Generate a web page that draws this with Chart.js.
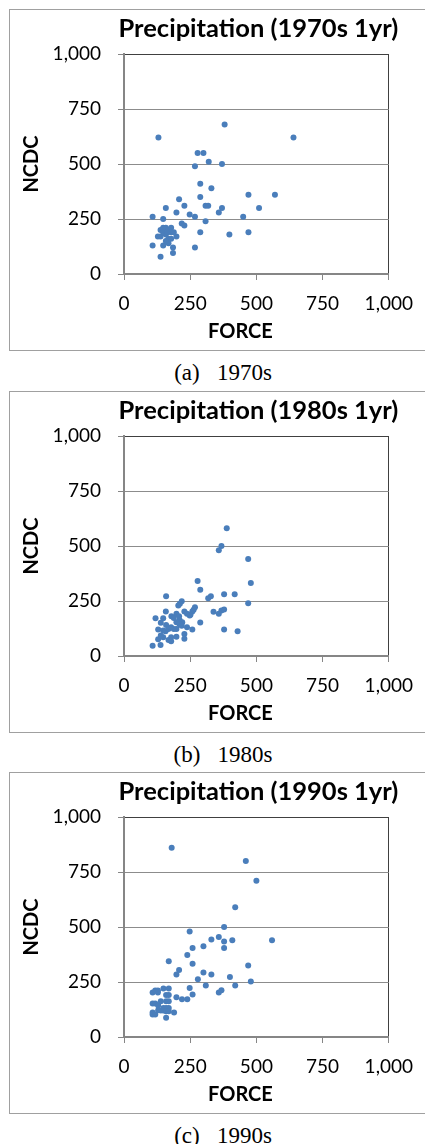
<!DOCTYPE html>
<html>
<head>
<meta charset="utf-8">
<script src="https://cdn.jsdelivr.net/npm/chart.js@4/dist/chart.umd.min.js"></script>
<style>
  html, body { margin: 0; padding: 0; background: #fff; width: 425px; height: 1144px; overflow: hidden; position: relative; }
  .panel { position: absolute; left: 9px; width: 440px; height: 340px; border: 1px solid #a0a0a0; background: #fff; }
  .panel canvas { position: absolute; left: 0; top: 0; }
  .cap { position: absolute; left: 113px; width: 220px; text-align: center; font-family: "Liberation Serif", "Times New Roman", serif; font-size: 23px; line-height: 24px; color: #000; }
</style>
</head>
<body>
<div class="panel" style="top:9px"><canvas id="chart70" width="415" height="340"></canvas></div>
<div class="cap" style="top:361px">(a)&nbsp;&nbsp;&nbsp;1970s</div>
<div class="panel" style="top:391px"><canvas id="chart80" width="415" height="340"></canvas></div>
<div class="cap" style="top:743px">(b)&nbsp;&nbsp;&nbsp;1980s</div>
<div class="panel" style="top:772px"><canvas id="chart90" width="415" height="340"></canvas></div>
<div class="cap" style="top:1124px">(c)&nbsp;&nbsp;&nbsp;1990s</div>

<script>
// axis ticks (both axes)
const axisTicks = [0, 250, 500, 750, 1000];

// 1970s: FORCE (x) vs NCDC (y)
const force70 = [130, 380, 640, 278, 300, 320, 268, 370, 288, 330, 288, 208, 470, 570, 158, 228, 308, 318, 370, 510,
  198, 358, 248, 108, 268, 450, 148, 308, 218, 228, 288, 470, 398, 268, 108, 148, 185, 185, 138, 198,
  128, 138, 138, 148, 158, 168, 178, 178, 158, 168, 178, 168, 148, 158, 188, 165];
const ncdc70 = [620, 680, 620, 550, 550, 510, 490, 500, 410, 390, 350, 340, 360, 360, 300, 310, 310, 310, 300, 300,
  280, 280, 270, 260, 260, 260, 250, 240, 230, 220, 190, 190, 180, 120, 130, 130, 120, 95, 78, 170,
  170, 170, 200, 210, 210, 200, 210, 190, 180, 160, 160, 140, 190, 150, 190, 190];

// 1980s
const force80 = [388, 368, 358, 469, 479, 278, 288, 318, 328, 378, 418, 469, 159, 218, 211, 205, 268, 263, 258, 251,
  338, 358, 368, 378, 288, 378, 429, 158, 119, 148, 139, 159, 129, 148, 157, 168, 178, 188, 198, 178,
  168, 178, 198, 228, 228, 238, 258, 108, 138, 129, 148, 139, 179, 188, 198, 208, 210, 220, 228, 198,
  210, 218, 248, 238];
const ncdc80 = [581, 500, 481, 441, 332, 341, 301, 262, 272, 281, 281, 240, 272, 249, 237, 230, 222, 210, 202, 187,
  201, 192, 207, 211, 152, 121, 112, 202, 172, 172, 151, 141, 120, 116, 112, 123, 131, 123, 123, 85,
  73, 67, 88, 100, 78, 131, 121, 47, 50, 76, 85, 93, 181, 173, 192, 181, 164, 153, 202, 153,
  143, 138, 184, 192];

// 1990s
const force90 = [180, 460, 500, 420, 378, 248, 358, 330, 378, 409, 559, 300, 259, 378, 239, 259, 469, 169, 208, 198,
  300, 330, 400, 279, 479, 309, 420, 248, 358, 368, 259, 198, 219, 239,
  108, 118, 128, 128, 149, 169, 159, 169, 108, 118, 139, 159, 169, 129, 149, 159, 169, 139, 149, 159,
  169, 108, 108, 118, 189, 159, 129];
const ncdc90 = [860, 800, 710, 590, 500, 480, 454, 443, 434, 440, 440, 413, 404, 404, 373, 333, 325, 344, 304, 284,
  293, 284, 273, 263, 252, 234, 234, 223, 202, 213, 193, 181, 172, 172,
  202, 211, 211, 202, 221, 221, 191, 191, 152, 152, 163, 163, 163, 143, 132, 132, 132, 121, 121, 117,
  117, 111, 102, 102, 111, 88, 122];

const GRID = '#8c8c8c';
const AXIS = '#868686';
const FRAME = '#404040';
const DOT = '#4a7ebb';

Chart.defaults.font.family = 'Lato';
Chart.defaults.color = '#000';

// chart title and x axis title, placed like the original (not clipped to the plot width)
const panelTitles = {
  id: 'panelTitles',
  afterDraw(chart, args, opts) {
    const { ctx, chartArea } = chart;
    const mid = (chartArea.left + chartArea.right) / 2;
    ctx.save();
    ctx.fillStyle = '#000';
    ctx.textAlign = 'center';
    ctx.textBaseline = 'middle';
    ctx.font = 'bold 25.5px Lato';
    ctx.fillText(opts.text, mid + 2, chartArea.top - 25);
    ctx.font = 'bold 20px Lato';
    ctx.fillText('FORCE', mid - 16, chartArea.bottom + 58);
    ctx.restore();
  }
};

function makeChart(id, title, xs, ys) {
  const points = xs.map((x, i) => ({ x: x, y: ys[i] }));
  new Chart(document.getElementById(id), {
    type: 'scatter',
    data: {
      datasets: [{
        data: points,
        backgroundColor: DOT,
        borderColor: DOT,
        borderWidth: 0,
        pointRadius: 3
      }]
    },
    options: {
      responsive: false,
      animation: false,
      events: [],
      layout: { padding: { left: 0, right: 35, top: 44, bottom: 0 } },
      plugins: {
        legend: { display: false },
        tooltip: { enabled: false },
        title: { display: false },
        panelTitles: { text: title }
      },
      scales: {
        x: {
          type: 'linear',
          min: axisTicks[0],
          max: axisTicks[axisTicks.length - 1],
          afterBuildTicks: s => { s.ticks = axisTicks.map(v => ({ value: v })); },
          afterFit: s => { s.height = 76; },
          ticks: { padding: 12, font: { size: 19 }, color: '#000' },
          grid: {
            drawOnChartArea: true,
            color: c => (c.tick && c.tick.value === 1000 ? FRAME : 'rgba(0,0,0,0)'),
            tickColor: AXIS,
            tickLength: 6,
            lineWidth: 1
          },
          border: { display: true, color: AXIS, width: 2 },
          title: { display: false }
        },
        y: {
          type: 'linear',
          min: axisTicks[0],
          max: axisTicks[axisTicks.length - 1],
          afterBuildTicks: s => { s.ticks = axisTicks.map(v => ({ value: v })); },
          afterFit: s => { s.width = 114; },
          ticks: { padding: 17, font: { size: 19 }, color: '#000' },
          grid: {
            color: c => {
              if (!c.tick) return GRID;
              if (c.tick.value === 1000) return FRAME;
              if (c.tick.value === 0) return 'rgba(0,0,0,0)';
              return GRID;
            },
            tickColor: AXIS,
            tickLength: 6,
            lineWidth: 1
          },
          border: { display: true, color: AXIS, width: 2 },
          title: {
            display: true,
            text: 'NCDC',
            color: '#000',
            font: { family: 'Lato', weight: 'bold', size: 20, lineHeight: 1.2 },
            padding: { top: 10, bottom: 0 }
          }
        }
      }
    },
    plugins: [panelTitles]
  });
}

makeChart('chart70', 'Precipitation (1970s 1yr)', force70, ncdc70);
makeChart('chart80', 'Precipitation (1980s 1yr)', force80, ncdc80);
makeChart('chart90', 'Precipitation (1990s 1yr)', force90, ncdc90);
</script>
</body>
</html>
